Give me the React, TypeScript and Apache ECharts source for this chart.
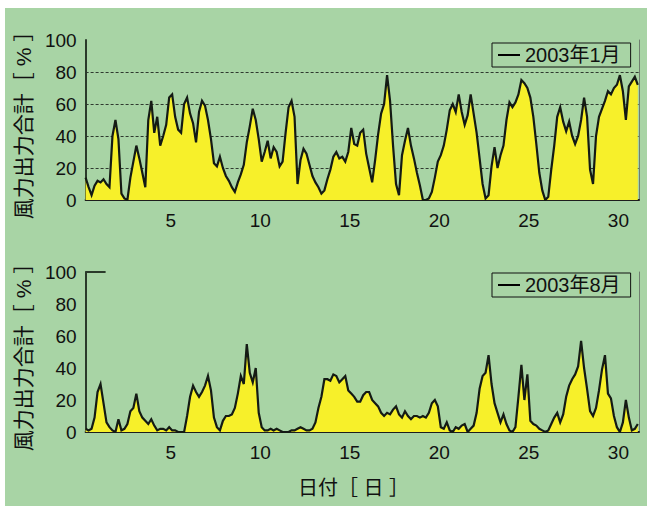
import React, { useEffect, useRef } from "react";
import * as echarts from "echarts";

// Sample times: every 4 hours (1/6 day) starting at day 0.25
const START_DAY = 0.25;
const STEP_DAY = 1 / 6;

// 2003年1月 total wind output [%]
const jan = [
  14, 8, 3, 9, 12, 11, 13, 10, 8, 40,
  50, 38, 4, 1, 0, 14, 24, 34, 26, 17,
  8, 50, 62, 42, 52, 34, 40, 47, 64, 66,
  52, 44, 42, 60, 64, 54, 48, 36, 55, 62,
  59, 50, 38, 23, 21, 27, 20, 15, 12, 8,
  5, 11, 16, 22, 36, 46, 57, 50, 38, 24,
  30, 37, 26, 33, 30, 21, 24, 42, 58, 62,
  52, 10, 25, 32, 29, 22, 15, 11, 8, 4,
  6, 13, 19, 27, 30, 26, 27, 24, 30, 45,
  35, 34, 42, 44, 29, 20, 11, 25, 41, 54,
  60, 78, 62, 34, 10, 3, 28, 37, 45, 34,
  26, 17, 9, 0, 0, 1, 5, 14, 24, 28,
  34, 44, 56, 60, 55, 66, 55, 47, 53, 66,
  54, 42, 26, 10, 1, 3, 21, 33, 20, 28,
  34, 50, 61, 58, 61, 66, 75, 73, 70, 64,
  52, 35, 17, 6, 0, 2, 19, 34, 52, 58,
  49, 43, 49, 40, 35, 40, 50, 64, 52, 19,
  10, 40, 52, 57, 62, 68, 66, 70, 72, 78,
  68, 50, 71, 74, 77, 72,
];

// 2003年8月 total wind output [%]
const aug = [
  2, 1, 2, 9, 25, 30, 18, 6, 3, 1,
  0, 8, 1, 2, 5, 13, 15, 24, 13, 9,
  7, 5, 8, 4, 1, 2, 2, 1, 3, 1,
  1, 0, 0, 0, 10, 22, 29, 25, 22, 25,
  29, 35, 26, 9, 3, 1, 7, 10, 10, 11,
  15, 24, 35, 30, 55, 37, 31, 40, 12, 3,
  1, 1, 2, 1, 2, 1, 0, 0, 0, 1,
  1, 2, 3, 2, 1, 1, 2, 6, 15, 22,
  33, 33, 32, 36, 35, 31, 33, 35, 26, 24,
  22, 19, 19, 23, 25, 25, 20, 18, 16, 12,
  10, 12, 11, 14, 16, 11, 9, 13, 10, 8,
  10, 10, 9, 10, 9, 12, 18, 20, 16, 3,
  2, 6, 1, 0, 3, 2, 4, 5, 0, 2,
  4, 12, 27, 35, 37, 48, 30, 18, 12, 6,
  11, 5, 1, 0, 3, 22, 42, 20, 36, 7,
  5, 4, 2, 1, 0, 1, 5, 9, 12, 6,
  11, 22, 29, 33, 36, 41, 57, 40, 27, 13,
  10, 15, 26, 39, 48, 24, 21, 10, 3, 0,
  6, 20, 9, 1, 2, 5,
];

const seriesNames = ["2003年1月", "2003年8月"];
const dayTicks = [5, 10, 15, 20, 25, 30];
const yAxisName = "風力出力合計［ % ］";
const xAxisName = "日付［ 日 ］";

const FONT = "'Liberation Sans', Arial, 'Noto Sans CJK JP', sans-serif";

const toPairs = (vals: number[]) => vals.map((v, i) => [START_DAY + i * STEP_DAY, v]);

export default function App() {
  const ref = useRef<HTMLDivElement>(null);

  useEffect(() => {
    if (!ref.current) return;
    const chart = echarts.init(ref.current, null, { renderer: "svg" });
    const grids = [0, 1];
    const option: any = {
      animation: false,
      backgroundColor: "#a8d4a5",
      textStyle: { fontFamily: FONT },
      grid: [
        { left: 78, right: 8, top: 32, height: 160 },
        { left: 78, right: 8, top: 264, height: 160 },
      ],
      xAxis: grids.map((g) => ({
        type: "value",
        gridIndex: g,
        min: 0.25,
        max: 31.15,
        axisLine: { show: true, onZero: false, lineStyle: { color: "#1e1e1e", width: 2 } },
        axisTick: { show: false },
        splitLine: { show: false },
        axisLabel: {
          customValues: dayTicks,
          fontSize: 19,
          color: "#111",
          margin: 11,
          fontFamily: FONT,
        },
      })),
      yAxis: [
        ...grids.map((g) => ({
          type: "value",
          gridIndex: g,
          min: 0,
          max: 100,
          interval: 20,
          name: yAxisName,
          nameLocation: "middle",
          nameRotate: 90,
          nameGap: 49,
          nameTextStyle: { fontSize: 21, color: "#111", fontFamily: FONT },
          axisLine: { show: true, lineStyle: { color: "#2a3a2a", width: 2 } },
          axisTick:
            g === 1
              ? { show: true, inside: true, length: 20, customValues: [100], lineStyle: { color: "#2a3a2a", width: 2 } }
              : { show: false },
          axisLabel: { fontSize: 19, color: "#111", margin: 9, fontFamily: FONT },
          splitLine: {
            show: true,
            showMinLine: false,
            showMaxLine: false,
            lineStyle: { type: [3, 2], color: "#2f3a2f", width: 1 },
          },
        })),
        ...grids.map((g) => ({
          type: "value",
          gridIndex: g,
          position: "right",
          min: 0,
          max: 100,
          axisLine: { show: true, lineStyle: { color: "#6f7f6f", width: 1 } },
          axisTick: { show: false },
          axisLabel: { show: false },
          splitLine: { show: false },
        })),
      ],
      legend: grids.map((g) => ({
        left: 487,
        top: g === 0 ? 35 : 265,
        data: [{ name: seriesNames[g], icon: "rect", itemStyle: { color: "#000" } }],
        itemWidth: 22,
        itemHeight: 2,
        itemGap: 0,
        padding: [2, 10, 2, 6],
        borderColor: "#111",
        borderWidth: 1,
        selectedMode: false,
        textStyle: { fontSize: 20, color: "#111", fontFamily: FONT },
      })),
      series: [jan, aug].map((vals, g) => ({
        name: seriesNames[g],
        type: "line",
        xAxisIndex: g,
        yAxisIndex: g,
        data: toPairs(vals),
        symbol: "none",
        lineStyle: { color: "#141a14", width: 2.2, join: "miter" },
        itemStyle: { color: "#141a14" },
        areaStyle: { color: "#f7f02a", opacity: 1 },
      })),
      graphic: [
        {
          type: "text",
          left: 293,
          top: 470,
          style: { text: xAxisName, fontSize: 20, fill: "#111", fontFamily: FONT },
        },
      ],
    };
    chart.setOption(option);
    return () => chart.dispose();
  }, []);

  return (
    <div style={{ position: "fixed", left: 0, top: 0, width: 647, height: 506, background: "#ffffff" }}>
      <div ref={ref} style={{ position: "absolute", left: 5, top: 8, width: 642, height: 498 }} />
    </div>
  );
}
